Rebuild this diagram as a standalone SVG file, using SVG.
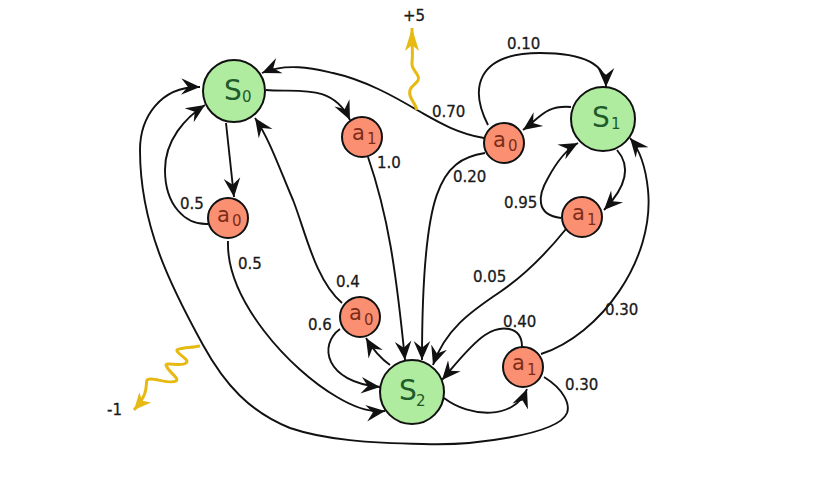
<svg xmlns="http://www.w3.org/2000/svg" width="820" height="477" viewBox="0 0 820 477">
<style>
text{font-family:"DejaVu Sans",sans-serif}
.l{font-size:15px;fill:#1a1a1a;stroke:#1a1a1a;stroke-width:.3}
.e{fill:none;stroke:#111;stroke-width:1.9;marker-end:url(#h)}
.r{fill:none;stroke:#e6ba12;stroke-width:3;stroke-linejoin:round}
.s circle{fill:#b0ec9f;stroke:#111;stroke-width:2}
.a circle{fill:#fa8f72;stroke:#111;stroke-width:2}
.s text{fill:#1e5a2c}
.a text{fill:#7d2c18}
.b{font-size:28px}
.c{font-size:21px}
.d{font-size:15px}
</style>
<defs>
<marker id="h" markerUnits="userSpaceOnUse" markerWidth="20" markerHeight="20" refX="17" refY="8" orient="auto" viewBox="0 0 18 16">
<path d="M17,8 L0,0.5 L6,8 L0,15.5 Z" fill="#111"/>
</marker>
<marker id="y" markerUnits="userSpaceOnUse" markerWidth="18" markerHeight="18" refX="15" refY="7" orient="auto" viewBox="0 0 16 14">
<path d="M15,7 L0,0 L4,7 L0,14 Z" fill="#e6ba12"/>
</marker>
<marker id="z" markerUnits="userSpaceOnUse" markerWidth="24" markerHeight="16" refX="23" refY="7.5" orient="auto" viewBox="0 0 24 16">
<path d="M23,7.5 L0,0.5 L6,7.5 L0,14.5 Z" fill="#e6ba12"/>
</marker>
</defs>
<g id="connectors">
<path class="e" d="M266,90 C295,93 332,82 350,120"/>
<path class="e" d="M484,138 C455,133 435,120 417,110 C395,97 365,80 333,73 C315,69 288,62 262,73"/>
<path class="e" d="M485,153 C440,160 422,190 422,360"/>
<path class="e" d="M368,157 C388,215 396,270 405,360"/>
<path class="e" d="M226,123 L234,197"/>
<path class="e" d="M208,224 C185,225 165,205 165,170 C165,140 185,118 205,105"/>
<path class="e" d="M228,241 C226,300 290,370 337,397 C352,406 368,413 385,411"/>
<path class="e" d="M342,303 C315,280 305,230 293,200 C280,170 270,140 255,118"/>
<path class="e" d="M390,365 C380,358 372,348 366,338"/>
<path class="e" d="M340,329 C318,345 325,382 380,387"/>
<path class="e" d="M444,398 C470,418 515,420 527,389"/>
<path class="e" d="M522,347 C522,325 500,325 485,335 C470,345 455,365 442,380"/>
<path class="e" d="M541,354 C600,335 655,260 648,190 C646,170 640,150 630,138"/>
<path class="e" d="M544,377 C565,390 570,405 567,413 C558,435 470,446 423,444 C370,443 325,440 290,428 C250,412 225,385 203,345 C170,285 140,225 140,150 C140,118 160,86 200,87"/>
<path class="e" d="M571,107 C545,105 540,118 523,130"/>
<path class="e" d="M488,125 C470,90 475,53 540,53 C585,53 606,65 606,87"/>
<path class="e" d="M617,150 C630,165 628,185 604,210"/>
<path class="e" d="M561,218 C535,215 538,195 548,178 C555,165 565,150 578,143"/>
<path class="e" d="M566,229 C545,255 525,275 500,292 C470,312 445,330 433,365"/>
<path class="r" marker-end="url(#z)" d="M417,110 C414,100 408,98 410,90 C412,84 421,82 418,76 C415,70 411,68 412,62 C413,56 412,50 412,28"/>
<path class="r" marker-end="url(#y)" d="M200,346 C190,348 175,348 177,351 C180,356 190,360 186,363 C182,367 166,362 166,365 C168,372 180,378 176,381 C170,385 150,376 147,380 C145,385 150,392 134,410"/>
</g>
<g id="S0" class="s"><circle cx="234" cy="91" r="31"/><text class="b" x="224" y="100">S</text><text class="d" x="242" y="102">0</text></g>
<g id="S1" class="s"><circle cx="603" cy="119" r="32"/><text class="b" x="592" y="127">S</text><text class="d" x="611" y="129">1</text></g>
<g id="S2" class="s"><circle cx="412" cy="392" r="32"/><text class="b" x="399" y="400">S</text><text class="d" x="416" y="406">2</text></g>
<g id="a1-s0" class="a"><circle cx="362" cy="137" r="20"/><text class="c" x="352" y="140">a</text><text class="d" x="367" y="144">1</text></g>
<g id="a0-s0" class="a"><circle cx="228" cy="218" r="20"/><text class="c" x="217" y="222">a</text><text class="d" x="232" y="226">0</text></g>
<g id="a0-s1" class="a"><circle cx="504" cy="143" r="20"/><text class="c" x="493" y="147">a</text><text class="d" x="508" y="151">0</text></g>
<g id="a1-s1" class="a"><circle cx="582" cy="217" r="20"/><text class="c" x="572" y="220">a</text><text class="d" x="587" y="225">1</text></g>
<g id="a0-s2" class="a"><circle cx="360" cy="317" r="20"/><text class="c" x="349" y="320">a</text><text class="d" x="364" y="325">0</text></g>
<g id="a1-s2" class="a"><circle cx="523" cy="367" r="20"/><text class="c" x="512" y="370">a</text><text class="d" x="527" y="375">1</text></g>
<g id="labels">
<text class="l" x="403" y="21">+5</text>
<text class="l" x="507" y="49">0.10</text>
<text class="l" x="432" y="117">0.70</text>
<text class="l" x="453" y="182">0.20</text>
<text class="l" x="504" y="208">0.95</text>
<text class="l" x="377" y="168">1.0</text>
<text class="l" x="180" y="209">0.5</text>
<text class="l" x="238" y="269">0.5</text>
<text class="l" x="336" y="287">0.4</text>
<text class="l" x="308" y="330">0.6</text>
<text class="l" x="503" y="327">0.40</text>
<text class="l" x="565" y="390">0.30</text>
<text class="l" x="605" y="315">0.30</text>
<text class="l" x="473" y="282">0.05</text>
<text class="l" x="107" y="415">-1</text>
</g>
</svg>
